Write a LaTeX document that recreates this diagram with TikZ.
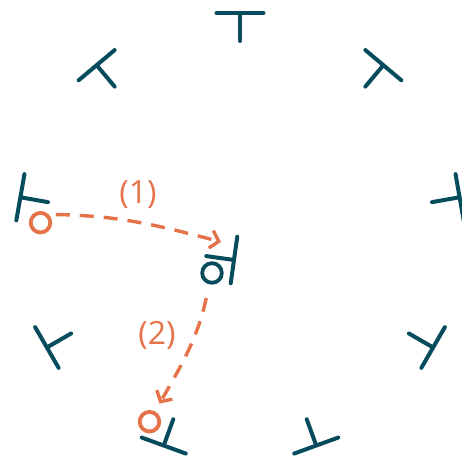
\documentclass[tikz,border=0pt]{standalone}
\usepackage{fontspec}
\setmainfont{Open Sans}
\usepackage{tikz}
\usetikzlibrary{
  arrows.meta
}
\definecolor{dockteal}{RGB}{6,76,92}
\definecolor{pathorange}{RGB}{229,114,72}
\tikzset{
  dockline/.style={
    draw=dockteal,
    line width=2pt,
    line cap=round,
  },
  robot/.style={
    circle,
    draw=#1,
    line width=1.9pt,
    minimum size=9.8pt,
    inner sep=0pt,
  },
  robot/.default=pathorange,
  move/.style={
    draw=pathorange,
    line width=1.7pt,
    dash pattern=on 7pt off 5pt,
    -{Straight Barb[length=4pt,width=9pt]},
  },
  lbl/.style={
    text=pathorange,
    font=\fontsize{16}{19}\selectfont,
    inner sep=0pt,
  },
  pics/dock/.style={
    code={\draw[dockline] (0,-23.5) -- (0,23.5) (0,0) -- (-28,0);}
  },
}

\begin{document}
\begin{tikzpicture}[x=0.5pt, y=0.5pt]
  \useasboundingbox (-240,-222) rectangle (222,236);

  % Ring of docks
  \foreach \a in {10,50,...,330}
    \pic[rotate=\a] at (\a:223) {dock};

  % Dock in the middle
  \pic[rotate=-8] at (-6,-24) {dock};

  % Robots
  \node[robot] (robA) at (-199.5,13.3) {};
  \node[robot=dockteal] (robB) at (-28,-37) {};
  \node[robot] (robC) at (-90.5,-185.7) {};
  \coordinate (goalA) at (-19,-6);

  % Moves
  \draw[move, shorten <=3.5pt] (robA.45) to[out=-1, in=165] (goalA);
  \node[lbl] (lblA) at (-102,41) {(1)};

  \draw[move, shorten <=7pt, shorten >=4.5pt] (robB.256) to[out=258, in=60] (robC.62);
  \node[lbl] (lblB) at (-83,-99) {(2)};
\end{tikzpicture}
\end{document}
